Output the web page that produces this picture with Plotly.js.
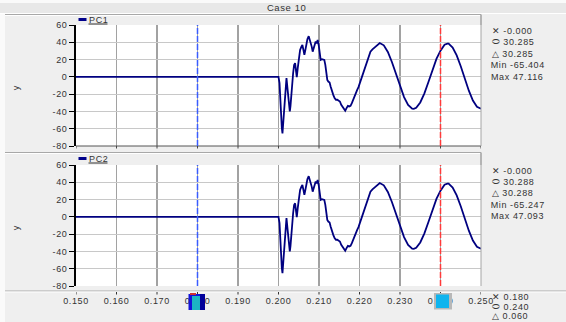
<!DOCTYPE html>
<html>
<head>
<meta charset="utf-8">
<script src="https://cdn.plot.ly/plotly-3.0.1.min.js"></script>
<style>
html,body{margin:0;padding:0;background:#efefef;}
#plot{width:566px;height:322px;}
#plot text{letter-spacing:0.6px;}
</style>
</head>
<body>
<div id="plot"></div>
<script>
// ---- data ----
const timeS = [0.150, 0.2000, 0.20025, 0.20041, 0.20057, 0.20082, 0.20098, 0.20115, 0.20131, 0.20156, 0.20180, 0.20197,
  0.20221, 0.20254, 0.20279, 0.20295, 0.20311, 0.20336, 0.20361, 0.20385, 0.20410, 0.20434,
  0.20451, 0.20475, 0.20500, 0.20533, 0.20566, 0.20590, 0.20615, 0.20639, 0.20664, 0.20689,
  0.20713, 0.20746, 0.20770, 0.20795, 0.20820, 0.20844, 0.20869, 0.20893, 0.20918, 0.20943,
  0.20967, 0.20992, 0.21016, 0.21041, 0.21074, 0.21107, 0.21131, 0.21156, 0.21180, 0.21205,
  0.21230, 0.21262, 0.21287, 0.21320, 0.21352, 0.21385, 0.21418, 0.21451, 0.21484, 0.21516,
  0.21549, 0.21582, 0.21615, 0.21648, 0.21680, 0.21713, 0.21746, 0.21779, 0.21811, 0.21844,
  0.21877, 0.21910, 0.21943, 0.21975, 0.22008, 0.22041, 0.22074, 0.22107, 0.22139, 0.22172,
  0.22221, 0.22270, 0.22320, 0.22369, 0.22418, 0.22467,
  0.2250, 0.2260, 0.2270, 0.2280, 0.2290, 0.2300, 0.2310, 0.2320, 0.2330,
  0.2334,
  0.2340, 0.2350, 0.2360, 0.2370, 0.2380, 0.2390, 0.2400, 0.2410,
  0.2417,
  0.2420, 0.2430, 0.2440, 0.2450, 0.2460, 0.2470, 0.2480, 0.2490, 0.2500];

const pc1 = [0, 0, -7.3, -24.6, -45.8, -59.2, -65.4, -53.5, -41.9, -22.7, -3.5, -1.5,
  -13.1, -26.5, -40.0, -34.2, -22.7, -11.2, 4.2, 13.8, 15.8, 6.2,
  -0.4, 10.0, 21.5, 31.2, 35.0, 36.9, 31.2, 25.4, 31.2, 38.8,
  43.5, 47.1, 43.5, 40.8, 35.0, 29.2, 33.1, 38.1, 40.8, 38.8,
  42.7, 36.9, 27.3, 19.6, 20.4, 19.6, 19.6, 13.8, 6.2, -3.5,
  -5.4, -6.5, -11.2, -16.9, -20.8, -24.6, -26.5, -26.5, -27.7, -28.5,
  -32.3, -35.0, -37.3, -39.2, -36.2, -33.5, -34.2, -33.5, -30.4, -26.5,
  -20.8, -16.9, -15.0, -11.9, -7.3, -1.5, 4.2, 8.8, 11.9, 17.7,
  23.5, 29.2, 31.9, 34.2, 36.5, 38.8,
  39.2, 36.5, 28.8, 17.2, 3.3, -10.9, -23.4, -32.5, -36.8,
  -37.0,
  -35.7, -29.6, -19.3, -6.3, 7.8, 20.8, 30.3, 37.2,
  38.5,
  38.4, 34.0, 24.8, 12.2, -2.2, -16.0, -27.4, -34.7, -36.8];

const pc2 = [0, 0, -7.2, -24.5, -45.7, -59.1, -65.2, -53.4, -41.8, -22.6, -3.5, -1.5,
  -13.0, -26.4, -39.9, -34.1, -22.6, -11.2, 4.2, 13.8, 15.7, 6.2,
  -0.4, 10.0, 21.5, 31.2, 35.0, 36.9, 31.2, 25.4, 31.2, 38.8,
  43.5, 47.1, 43.5, 40.8, 35.0, 29.2, 33.1, 38.1, 40.8, 38.8,
  42.7, 36.9, 27.3, 19.6, 20.4, 19.6, 19.6, 13.8, 6.2, -3.5,
  -5.4, -6.5, -11.2, -16.9, -20.8, -24.6, -26.5, -26.5, -27.7, -28.5,
  -32.3, -35.0, -37.3, -39.1, -36.2, -33.5, -34.2, -33.5, -30.4, -26.5,
  -20.8, -16.9, -15.0, -11.9, -7.3, -1.5, 4.2, 8.8, 11.9, 17.7,
  23.5, 29.2, 31.9, 34.2, 36.5, 38.8,
  39.2, 36.5, 28.8, 17.2, 3.3, -10.9, -23.4, -32.5, -36.8,
  -37.0,
  -35.7, -29.6, -19.3, -6.3, 7.8, 20.8, 30.3, 37.2,
  38.5,
  38.4, 34.0, 24.8, 12.2, -2.2, -16.0, -27.4, -34.7, -36.8];

const xTicks = [0.150, 0.160, 0.170, 0.180, 0.190, 0.200, 0.210, 0.220, 0.230, 0.240, 0.250];
const xTickText = ["0.150", "0.160", "0.170", "0.180", "0.190", "0.200", "0.210", "0.220", "0.230", "0.240", "0.250"];
const yTicks = [60, 40, 20, 0, -20, -40, -60, -80];
const yTickText = ["60", "40", "20", "0", "-20", "-40", "-60", "-80"];

const cursorX = [0.180, 0.240];
const seriesNames = ["PC1", "PC2"];
const readout1 = ["\u2715 -0.000", "\u2B2D 30.285", "\u25B3 30.285", "Min -65.404", "Max 47.116"];
const readout2 = ["\u2715 -0.000", "\u2B2D 30.288", "\u25B3 30.288", "Min -65.247", "Max 47.093"];
const readoutX = ["\u2715 0.180", "\u2B2D 0.240", "\u25B3 0.060"];
const chartTitle = "Case 10";

// ---- layout helpers (pixel -> paper) ----
const L = 76, R = 481, T = 25, B = 286;
const px = v => (v - L) / (R - L);
const py = v => (B - v) / (B - T);

const FONT = "Liberation Sans, Arial, sans-serif";
const lineColor = "#000080";

const traces = [
  {x: timeS, y: pc1, xaxis: "x2", yaxis: "y", mode: "lines", name: seriesNames[0],
   line: {color: lineColor, width: 1.8}, showlegend: false, hoverinfo: "skip"},
  {x: timeS, y: pc2, xaxis: "x", yaxis: "y2", mode: "lines", name: seriesNames[1],
   line: {color: lineColor, width: 1.8}, showlegend: false, hoverinfo: "skip"}
];

const yAxisCommon = {
  range: [-80, 60], tickmode: "array", tickvals: yTicks, ticktext: yTickText,
  showgrid: true, gridcolor: "#c8c8c8", gridwidth: 1, zeroline: false,
  showline: true, linecolor: "#000", linewidth: 1.8,
  ticks: "outside", ticklen: 5, tickcolor: "#000", tickwidth: 1,
  tickfont: {family: FONT, size: 9, color: "#333"}, fixedrange: true
};
const xAxisCommon = {
  range: [0.150, 0.250], tickmode: "array", tickvals: xTicks, ticktext: xTickText,
  showgrid: true, gridcolor: "#a2a2a2", gridwidth: 1.3, zeroline: false,
  tickfont: {family: FONT, size: 9, color: "#333"}, fixedrange: true
};

const topDom = [py(146), 1];
const botDom = [0, py(165)];

const shapes = [];
const P = {xref: "paper", yref: "paper"};
const addLine = (x0, y0, x1, y1, color, width, layer) =>
  shapes.push(Object.assign({type: "line", x0: px(x0), x1: px(x1), y0: py(y0), y1: py(y1),
    line: {color, width}, layer: layer || "above"}, P));
const addRect = (x0, y0, x1, y1, color, layer) =>
  shapes.push(Object.assign({type: "rect", x0: px(x0), x1: px(x1), y0: py(y0), y1: py(y1),
    fillcolor: color, line: {width: 0}, layer: layer || "above"}, P));

// chrome
addRect(0, 0, 566, 3, "#fafafa", "below");
addRect(0, 3, 566, 13, "#e8e8e8", "below");
addRect(0, 13, 5, 322, "#fafafa", "below");
addLine(0, 13.5, 566, 13.5, "#ffffff", 1, "below");
[14.5, 152.5].forEach(v => {
  addLine(5, v, 481, v, "#a8a8a8", 1, "below");
  addLine(5, v + 1, 481, v + 1, "#ffffff", 1, "below");
});
addLine(481, 14.5, 481, 25, "#a0a0a0", 1.5, "below");
addLine(481, 152.5, 481, 165, "#a0a0a0", 1.5, "below");
// top panel bottom axis line
addLine(76, 146, 481, 146, "#555555", 1);
// bottom panel separator line below plot
addLine(5, 291, 566, 291, "#a8a8a8", 1, "below");
addLine(5, 292, 566, 292, "#ffffff", 1, "below");

// right border of plot areas
[["y", "x2"], ["y2", "x"]].forEach(([ya, xa]) => {
  shapes.push({type: "line", xref: xa + " domain", yref: ya + " domain", x0: 1, x1: 1, y0: 0, y1: 1, line: {color: "#a6a6a6", width: 1}});
});
// small tick marks under the plots
xTicks.forEach(t => {
  shapes.push({type: "line", xref: "x", yref: "paper", x0: t, x1: t, y0: py(292), y1: py(294.5), line: {color: "#333", width: 1}});
  shapes.push({type: "line", xref: "x2", yref: "paper", x0: t, x1: t, y0: py(146), y1: py(148.5), line: {color: "#444", width: 1}});
});
// cursors
const cursorColors = ["#3a5cff", "#ff3a3a"];
[["y", "x2"], ["y2", "x"]].forEach(([ya, xa]) => {
  cursorX.forEach((cx, i) => {
    shapes.push({type: "line", xref: xa, yref: ya + " domain", x0: cx, x1: cx, y0: 0, y1: 1,
      line: {color: cursorColors[i], width: 1.5, dash: "6px,2px"}});
  });
});
// legend swatches + underline
[19.5, 158.5].forEach(yy => {
  addRect(78.5, yy - 1.5, 86.5, yy + 1.5, "#00008b");
  addLine(88.5, yy + 4.5, 107.5, yy + 4.5, "#333", 1);
});
// cursor handles on x axis
addRect(188.5, 294, 205, 310, "#1414d8");
addRect(192, 296, 200, 310, "#1cb6c4");
addRect(200, 294, 205, 310, "#00009a");
addRect(190, 293, 196, 295, "#d03030");
addRect(434, 293, 452, 309.5, "#b8b8b8");
addRect(436, 294.5, 449, 308, "#10b4ee");

const annotations = [];
const txt = (text, x, y, opts = {}) => annotations.push(Object.assign({
  text, xref: "paper", yref: "paper", x: px(x), y: py(y), showarrow: false,
  xanchor: "left", yanchor: "middle", font: {family: FONT, size: 9, color: "#333"}
}, opts));

txt(chartTitle, 286, 8, {xanchor: "center", font: {family: FONT, size: 9.5, color: "#333"}});
txt(seriesNames[0], 88, 20);
txt(seriesNames[1], 88, 159);
readout1.forEach((s, i) => txt(s, 492, [31, 42.3, 53.7, 65.3, 77.3][i]));
readout2.forEach((s, i) => txt(s, 492, [171, 182.3, 193.3, 205, 216][i]));
readoutX.forEach((s, i) => txt(s, 492, [296.5, 306.5, 315.5][i]));
txt("y", 16, 88, {xanchor: "center", textangle: -90});
txt("y", 16, 228, {xanchor: "center", textangle: -90});

const layout = {
  width: 566, height: 322,
  margin: {l: L, r: 566 - R, t: T, b: 322 - B, pad: 0},
  paper_bgcolor: "#efefef", plot_bgcolor: "#ffffff",
  showlegend: false,
  xaxis: Object.assign({}, xAxisCommon, {anchor: "y2", domain: [0, 1], showline: false, ticks: "", ticklabelstandoff: 8}),
  xaxis2: Object.assign({}, xAxisCommon, {anchor: "y", domain: [0, 1], matches: "x", showticklabels: false, showline: false, ticks: ""}),
  yaxis: Object.assign({}, yAxisCommon, {anchor: "x2", domain: topDom}),
  yaxis2: Object.assign({}, yAxisCommon, {anchor: "x", domain: botDom}),
  shapes, annotations
};

Plotly.newPlot("plot", traces, layout, {staticPlot: true, displayModeBar: false});
</script>
</body>
</html>
